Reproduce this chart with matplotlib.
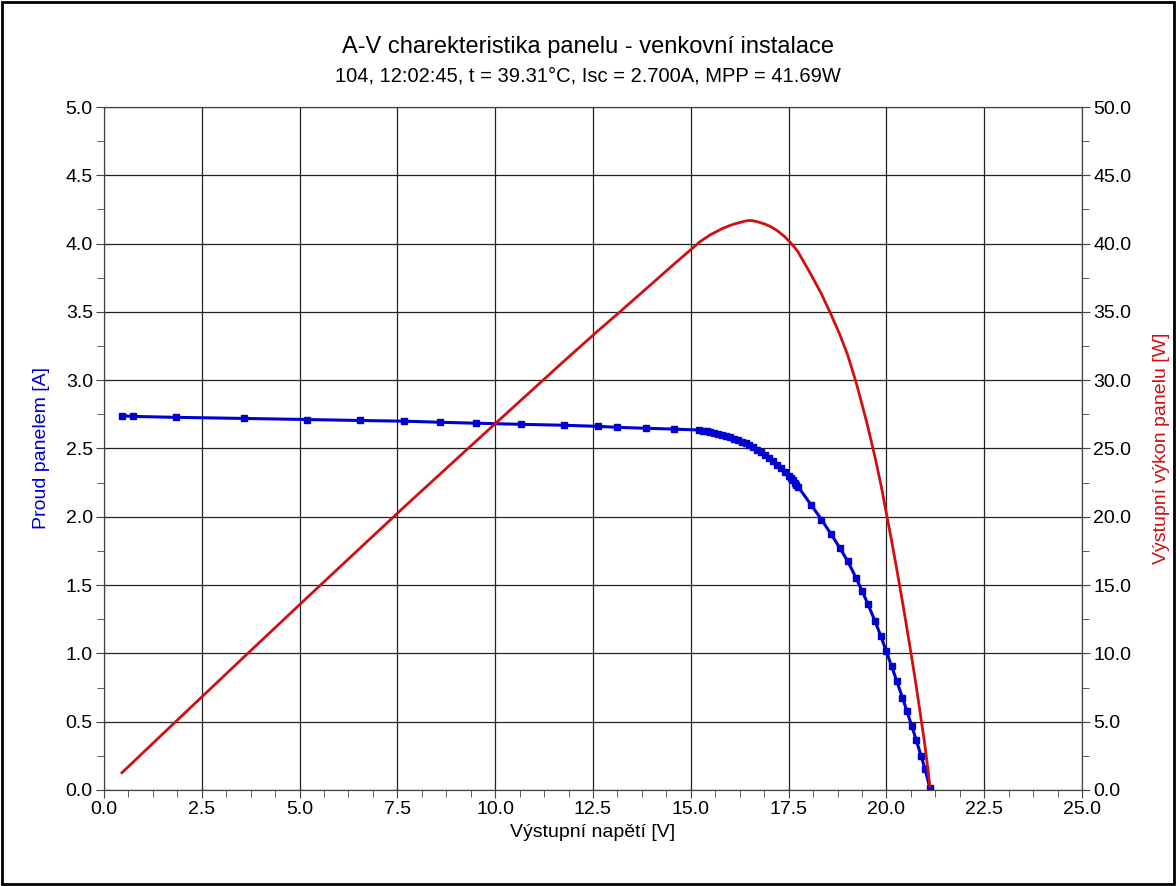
import matplotlib
matplotlib.use("Agg")
import matplotlib.pyplot as plt
import numpy as np
from matplotlib.patches import Rectangle
from matplotlib.ticker import MultipleLocator, FormatStrFormatter

plt.rcParams['font.family'] = ['Liberation Sans', 'DejaVu Sans']

# namerene body A-V charakteristiky (napeti [V], proud [A])
napeti = np.array([
    0.46, 0.73, 1.83, 3.59, 5.20, 6.55, 7.68, 8.60, 9.52, 10.66,
    11.77, 12.64, 13.12, 13.85, 14.57, 15.22,
    15.32, 15.42, 15.50, 15.60, 15.70, 15.80, 15.90, 16.00, 16.10, 16.20,
    16.30, 16.40, 16.50, 16.60, 16.70, 16.80, 16.90, 17.00, 17.10, 17.20,
    17.30, 17.40, 17.50, 17.55, 17.60, 17.66, 17.70, 17.74,
    18.07, 18.34, 18.58, 18.81, 19.01, 19.22, 19.38, 19.52, 19.71, 19.86,
    19.99, 20.13, 20.26, 20.41, 20.52, 20.65, 20.76, 20.89, 20.99, 21.11,
])
proud = np.array([
    2.740, 2.735, 2.728, 2.720, 2.712, 2.705, 2.700, 2.692, 2.685, 2.677,
    2.670, 2.662, 2.655, 2.648, 2.642, 2.635,
    2.631, 2.626, 2.623, 2.615, 2.608, 2.601, 2.592, 2.583, 2.573, 2.562,
    2.551, 2.540, 2.527, 2.510, 2.491, 2.471, 2.451, 2.429, 2.406, 2.382,
    2.355, 2.328, 2.298, 2.283, 2.267, 2.248, 2.234, 2.221,
    2.089, 1.980, 1.875, 1.772, 1.675, 1.555, 1.455, 1.365, 1.235, 1.125,
    1.020, 0.908, 0.801, 0.675, 0.580, 0.466, 0.368, 0.245, 0.150, 0.015,
])
# vykon panelu = U * I
vykon = napeti * proud

modra = '#0000d0'
cervena = '#d01010'

fig = plt.figure(figsize=(11.76, 8.86), dpi=100)
ax = fig.add_axes([0.0884, 0.1084, 0.8317, 0.7708])
ax2 = ax.twinx()

ax.plot(napeti, proud, color=modra, lw=2.2, marker='s', markersize=5, zorder=3)
ax2.plot(napeti, vykon, color=cervena, lw=2.0, zorder=3)

ax.set_xlim(0, 25)
ax.set_ylim(0, 5)
ax2.set_ylim(0, 50)

ax.xaxis.set_major_locator(MultipleLocator(2.5))
ax.xaxis.set_minor_locator(MultipleLocator(0.625))
ax.yaxis.set_major_locator(MultipleLocator(0.5))
ax.yaxis.set_minor_locator(MultipleLocator(0.25))
ax2.yaxis.set_major_locator(MultipleLocator(5))
ax2.yaxis.set_minor_locator(MultipleLocator(2.5))
ax.xaxis.set_major_formatter(FormatStrFormatter('%.1f'))
ax.yaxis.set_major_formatter(FormatStrFormatter('%.1f'))
ax2.yaxis.set_major_formatter(FormatStrFormatter('%.1f'))

ax.grid(True, which='major', color='#222222', lw=0.9)
ax.set_axisbelow(True)

for a in (ax, ax2):
    for s in a.spines.values():
        s.set_color('#444444')
    a.tick_params(which='both', direction='out', colors='#444444', labelcolor='black',
                  labelsize=14, pad=2)
    a.tick_params(which='major', length=6)
    a.tick_params(which='minor', length=5)

ax.set_xlabel('Výstupní napětí [V]', fontsize=14, labelpad=4)
ax.set_ylabel('Proud panelem [A]', fontsize=14, color=modra, labelpad=11)
ax2.set_ylabel('Výstupní výkon panelu [W]', fontsize=14, color=cervena, labelpad=16)

fig.text(0.5, 0.947, 'A-V charekteristika panelu - venkovní instalace',
         ha='center', va='center', fontsize=17)
fig.text(0.5, 0.914, '104, 12:02:45, t = 39.31°C, Isc = 2.700A, MPP = 41.69W',
         ha='center', va='center', fontsize=14.5)

# cerny ramecek kolem celeho obrazku
fig.patches.append(Rectangle((0.002, 0.002), 0.996, 0.996, transform=fig.transFigure,
                             fill=False, edgecolor='black', lw=2))

fig.savefig('out.png', dpi=100)
